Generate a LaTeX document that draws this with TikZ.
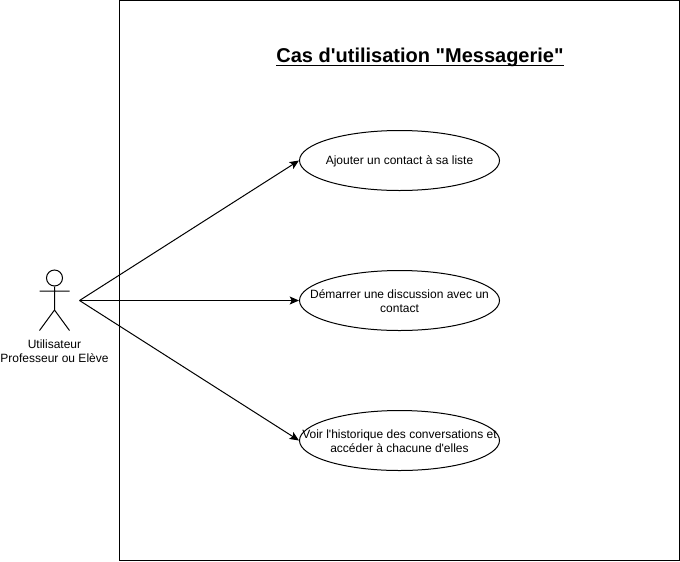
\documentclass[tikz,border=0pt]{standalone}
\usepackage{fontspec}
\setmainfont{Liberation Sans}[Ligatures=TeXOff]
\usetikzlibrary{shapes.geometric,arrows.meta}
\tikzset{
 x=0.75pt,y=-0.75pt,
 lbl/.style={inner sep=0pt,align=center,font=\fontsize{9}{10.5}\selectfont,yshift=-0.75pt},
 usecase/.style={draw,ellipse,minimum width=150pt,minimum height=45pt,inner sep=0pt,line width=0.75pt},
 conn/.style={-{Stealth[length=7pt,width=6pt,inset=1.5pt]},line width=0.75pt}
}
\begin{document}
\begin{tikzpicture}
\useasboundingbox (0,0) rectangle (680,561);
\fill[white] (0,0) rectangle (680,561);
\node[draw,line width=0.75pt,minimum width=420pt,minimum height=420pt,inner sep=0pt] (frame) at (399.5,280) {};
\node[inner sep=0pt,anchor=base,font=\bfseries\fontsize{15}{18}\selectfont] (title) at (420,62) {Cas d'utilisation "Messagerie"};
\draw[line width=0.9pt] (title.base west) ++(0,3.2) coordinate (ul1) -- (ul1 -| title.base east);
\node[usecase,label={[lbl]center:Ajouter un contact à sa liste}] (a) at (399.5,160.5) {};
\node[usecase,label={[lbl]center:Démarrer une discussion avec un\\contact}] (b) at (399.5,300.5) {};
\node[usecase,label={[lbl]center:Voir l'historique des conversations et\\accéder à chacune d'elles}] (c) at (399.5,440.5) {};
\node[draw,circle,minimum size=12pt,inner sep=0pt,line width=0.75pt] (head) at (54.5,278) {};
\coordinate (hip) at (54.5,310);
\coordinate (arml) at (39.5,291);
\coordinate (armr) at (69.5,291);
\coordinate (legl) at (39.5,330.5);
\coordinate (legr) at (69.5,330.5);
\draw[line width=0.75pt] (head) -- (hip) (arml) -- (armr) (legl) -- (hip) -- (legr);
\node[lbl] (actor) at (54.5,350.5) {Utilisateur\\Professeur ou Elève};
\coordinate (src) at (79.5,300.5);
\draw[conn] (src) -- (a.west);
\draw[conn] (src) -- (b.west);
\draw[conn] (src) -- (c.west);
\end{tikzpicture}
\end{document}
